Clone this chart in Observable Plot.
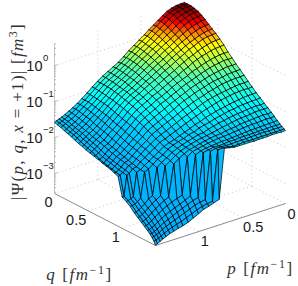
<!DOCTYPE html>
<html><head><meta charset="utf-8">
<script src="https://cdn.jsdelivr.net/npm/d3@7"></script>
<script src="https://cdn.jsdelivr.net/npm/@observablehq/plot@0.6"></script>
<style>html,body{margin:0;padding:0;background:#fff}svg{display:block}</style>
</head><body><div id="c"></div><script>
// axis limits
const axisMax = 1.5, logFloor = -3.55, logTop = 0.62;
// grid nodes as fraction of axisMax (same for p and q)
const nodes = [0,.03,.065,.10,.135,.17,.205,.24,.275,.31,.35,.39,.43,.47,.51,.55,.59,.63,.67,.71,.75,.79,.825,.86,.89,.92,.945,.965,.985,1];
// surface height, in 0.01 decades above the log axis floor; rows = p nodes, columns = q nodes
const heightRows = [
[414,414,414,412,409,403,396,388,380,373,363,352,339,328,317,307,297,286,276,266,257,248,241,233,226,219,213,209,205,203],
[414,414,414,411,408,402,395,387,379,372,362,351,338,327,316,306,296,285,275,265,256,247,240,232,225,218,212,208,204,202],
[413,413,413,409,406,400,392,385,377,371,361,350,338,328,317,306,296,285,276,265,256,248,241,233,226,218,213,209,204,203],
[410,410,409,405,401,396,388,381,373,368,358,348,335,325,315,305,295,284,275,264,255,247,240,232,225,217,212,208,204,203],
[405,405,404,400,395,390,383,376,368,363,354,344,333,323,312,302,294,282,274,262,254,246,238,231,224,217,212,209,204,202],
[397,398,396,393,388,382,376,369,363,357,349,341,329,320,310,300,292,280,272,260,253,244,237,230,224,216,212,209,204,202],
[388,389,387,383,378,373,369,363,357,352,343,336,325,316,307,298,289,278,270,258,250,243,236,229,223,216,211,208,204,202],
[379,380,378,375,371,365,361,356,350,345,338,331,320,312,303,295,285,276,267,255,249,241,235,228,222,215,211,208,203,201],
[370,371,369,366,362,358,353,348,343,338,331,323,316,307,299,290,282,273,264,253,246,239,232,225,220,214,211,207,204,202],
[360,361,359,356,353,350,346,341,336,331,325,318,309,302,295,287,277,270,260,250,243,236,230,224,219,213,211,207,204,202],
[350,351,349,347,345,341,336,332,327,322,316,310,303,297,290,282,273,265,256,246,240,234,227,222,217,212,209,207,203,202],
[340,341,340,338,335,332,328,324,319,315,309,303,297,291,283,276,268,259,251,242,235,230,224,219,216,211,210,206,202,202],
[330,331,330,328,326,323,319,315,311,306,301,295,290,283,277,271,262,253,245,236,232,226,221,218,215,211,208,206,205,205],
[318,320,319,318,316,313,310,306,302,298,293,288,282,277,270,264,256,248,240,232,228,221,218,216,213,209,207,207,207,208],
[307,309,309,308,306,304,301,297,294,291,285,280,275,269,264,256,249,242,234,226,222,220,216,213,211,208,208,207,206,71],
[299,300,299,298,296,294,292,289,285,283,278,274,269,264,256,249,242,235,228,220,219,215,213,210,208,206,205,204,68,66],
[291,291,290,289,288,286,283,280,277,274,270,265,260,255,249,242,236,229,222,215,213,211,209,206,205,203,202,74,66,61],
[283,283,282,281,279,277,275,273,270,267,263,258,253,248,242,235,229,222,216,209,209,206,204,203,202,197,82,72,63,57],
[273,273,273,272,271,269,267,264,261,258,254,250,245,240,234,228,222,216,210,205,204,201,199,196,192,88,78,68,58,49],
[262,262,261,260,258,256,255,252,250,247,243,239,235,231,226,220,215,209,205,199,197,194,191,188,90,80,72,62,52,42],
[250,250,249,248,246,245,243,240,236,233,229,226,222,218,212,208,203,199,194,189,186,184,181,177,85,74,66,56,46,35],
[239,239,239,237,235,232,230,228,225,221,217,214,209,205,201,197,193,190,185,180,179,176,171,90,80,68,60,50,40,30],
[230,231,230,228,225,223,220,217,214,210,207,203,199,194,190,187,184,180,176,172,169,165,93,84,74,63,54,45,36,27],
[222,222,221,218,216,214,210,206,203,200,197,192,188,184,180,176,173,171,168,164,160,92,85,76,67,57,48,40,32,23],
[216,215,213,211,208,205,202,198,194,191,186,182,178,175,171,168,164,161,158,156,155,86,78,69,60,51,43,35,28,20],
[210,209,207,204,201,198,195,192,188,185,182,178,174,170,167,164,162,159,156,152,86,76,69,61,53,44,37,30,23,15],
[206,204,203,199,196,193,190,186,182,179,175,170,165,161,158,155,152,150,146,87,79,69,62,54,46,38,31,24,18,11],
[203,201,199,196,192,189,186,181,178,174,170,165,160,157,154,151,147,145,143,84,75,64,57,49,41,34,27,21,14,7],
[200,198,196,192,188,186,182,177,173,169,165,160,155,151,148,145,142,140,87,81,73,61,53,45,38,31,24,18,11,3],
[197,195,192,188,185,181,177,173,170,166,163,160,157,153,150,147,143,138,87,80,72,60,52,44,37,30,24,17,9,0]
];
const colorHeights = [0,1.5,2.2,2.55,3.07,3.3,3.55,3.72,3.93,4.14];
const colorStops = ["rgb(0,175,255)","rgb(0,180,255)","rgb(0,205,255)","rgb(0,255,255)","rgb(80,255,175)","rgb(170,255,85)","rgb(255,255,0)","rgb(255,165,0)","rgb(255,0,0)","rgb(128,0,0)"];
const tickValues = [0, 0.5, 1];
const decades = [-3,-2,-1,0];
const minorFactors = [2,3,4,5,6,7,8,9];

// orthographic view: fixed projection of (p,q,log10 psi) to the plot plane
const viewBack = [184,151], viewP = [-130,42], viewQ = [101,52], viewZ = 36;
const px = (p,q) => viewBack[0]+viewP[0]*p/axisMax+viewQ[0]*q/axisMax;
const py = (p,q,l) => viewBack[1]+viewP[1]*p/axisMax+viewQ[1]*q/axisMax-viewZ*(l-logFloor);

// surface cells
const cells = [];
let id = 0;
for (let i=0;i<nodes.length-1;i++) for (let j=0;j<nodes.length-1;j++) {
  const corners=[[i,j],[i+1,j],[i+1,j+1],[i,j+1],[i,j]];
  const h=(heightRows[i][j]+heightRows[i+1][j]+heightRows[i+1][j+1]+heightRows[i][j+1])/400;
  for (const [a,b] of corners) {
    const p=nodes[a]*axisMax,q=nodes[b]*axisMax,l=heightRows[a][b]/100+logFloor;
    cells.push({x:px(p,q),y:py(p,q,l),id,h});
  }
  id++;
}
// helpers for grid segments
const seg=(p1,q1,l1,p2,q2,l2)=>({x1:px(p1,q1),y1:py(p1,q1,l1),x2:px(p2,q2),y2:py(p2,q2,l2)});
const grid=[];
for (const v of tickValues.slice(1)) {
  grid.push(seg(v,0,logFloor,v,axisMax,logFloor), seg(0,v,logFloor,axisMax,v,logFloor));
  grid.push(seg(v,0,logFloor,v,0,logTop), seg(0,v,logFloor,0,v,logTop));
}
grid.push(seg(0,0,logFloor,axisMax,0,logFloor), seg(0,0,logFloor,0,axisMax,logFloor), seg(0,0,logFloor,0,0,logTop));
for (const d of decades) grid.push(seg(axisMax,0,d,0,0,d), seg(0,0,d,0,axisMax,d));
const axes=[seg(axisMax,0,logFloor,axisMax,axisMax,logFloor), seg(axisMax,axisMax,logFloor,0,axisMax,logFloor)];
const zAxis=[seg(axisMax,0,logFloor,axisMax,0,logTop)];
const zTicks=[];
for (const d of [-4,...decades]) {
  for (const m of [1,...minorFactors]) {
    const l=d+Math.log10(m);
    if (l<logFloor||l>logTop) continue;
    const s=seg(axisMax,0,l,axisMax,0,l);
    zTicks.push({x1:s.x1,y1:s.y1,x2:s.x1+(m===1?3:1.6),y2:s.y1-(m===1?1:.5)});
  }
}
const qOffsets=[[-6,9],[-12,10],[-6,9]], pOffsets=[[6,11],[11,10],[6,10]];
const floorLabels=[
  ...tickValues.map((v,k)=>({x:px(axisMax,v)+qOffsets[k][0],y:py(axisMax,v,logFloor)+qOffsets[k][1],t:String(v)})),
  ...tickValues.map((v,k)=>({x:px(v,axisMax)+pOffsets[k][0],y:py(v,axisMax,logFloor)+pOffsets[k][1],t:String(v)}))
];
const decadeBase=decades.map(d=>({x:42,y:py(axisMax,0,d)+1,t:"10"}));
const decadeExp=decades.map(d=>({x:42.5,y:py(axisMax,0,d)-8,t:d===0?"0":"\u2212"+(-d)}));
const sans="'Liberation Sans',Arimo,Helvetica,sans-serif", serif="'Liberation Serif','Times New Roman',serif";
const zTitle=[["|\u03a8(",0],["p",1],[", ",0],["q",1],[", ",0],["x",1],[" = +1)| [",0],["fm",1],["3",2],["]",0]];
const qTitle=[["q",1],[" [",0],["fm",1],["\u22121",2],["]",0]];
const pTitle=[["p",1],[" [",0],["fm",1],["\u22121",2],["]",0]];
const flat=a=>a.map(s=>s[0]).join("");

const svg=Plot.plot({
  width:298,height:286,margin:0,
  x:{domain:[0,298],range:[0,298],axis:null},
  y:{domain:[0,286],range:[0,286],axis:null},
  color:{type:"linear",domain:colorHeights,range:colorStops,legend:false},
  marks:[
    Plot.link(grid,{x1:"x1",y1:"y1",x2:"x2",y2:"y2",stroke:"#c8c8c8",strokeWidth:1,strokeDasharray:"1,3"}),
    Plot.link(axes,{x1:"x1",y1:"y1",x2:"x2",y2:"y2",stroke:"#8a8a8a",strokeWidth:1}),
    Plot.link(zAxis,{x1:"x1",y1:"y1",x2:"x2",y2:"y2",stroke:"#c4c4c4",strokeWidth:1}),
    Plot.link(zTicks,{x1:"x1",y1:"y1",x2:"x2",y2:"y2",stroke:"#999",strokeWidth:.7}),
    Plot.line(cells,{x:"x",y:"y",z:"id",fill:"h",stroke:"#000",strokeWidth:.85,strokeOpacity:.85,curve:"linear"}),
    Plot.text(floorLabels,{x:"x",y:"y",text:"t",fontSize:14.5,fontFamily:sans,fill:"#1a1a1a"}),
    Plot.text(decadeBase,{x:"x",y:"y",text:"t",textAnchor:"end",fontSize:14.5,fontFamily:sans,fill:"#1a1a1a"}),
    Plot.text(decadeExp,{x:"x",y:"y",text:"t",textAnchor:"start",fontSize:9.5,fontFamily:sans,fill:"#1a1a1a"}),
    Plot.text([{x:17,y:111,t:flat(zTitle)}],{x:"x",y:"y",text:"t",rotate:-90,fontSize:17,fontFamily:serif,fill:"#333"}),
    Plot.text([{x:79,y:274,t:flat(qTitle)}],{x:"x",y:"y",text:"t",fontSize:17,fontFamily:serif,fill:"#333"}),
    Plot.text([{x:260,y:268,t:flat(pTitle)}],{x:"x",y:"y",text:"t",fontSize:17,fontFamily:serif,fill:"#333"})
  ]
});
// rich text: italic variables and superscripts in the axis titles
for (const segs of [zTitle,qTitle,pTitle]) {
  const full=flat(segs);
  svg.querySelectorAll("text").forEach(t=>{
    if (t.textContent!==full) return;
    t.textContent="";
    t.setAttribute("letter-spacing",segs===zTitle?"1.3":"1.6");
    let shift=0;
    for (const [s,k] of segs) {
      const n=document.createElementNS("http://www.w3.org/2000/svg","tspan");
      n.textContent=s;
      if (k===1) n.setAttribute("font-style","italic");
      if (k===2) {n.setAttribute("font-size","12"); n.setAttribute("dy","-6"); shift=6;}
      else if (shift) {n.setAttribute("dy",String(shift)); shift=0;}
      t.appendChild(n);
    }
  });
}
document.getElementById("c").appendChild(svg);
</script></body></html>
